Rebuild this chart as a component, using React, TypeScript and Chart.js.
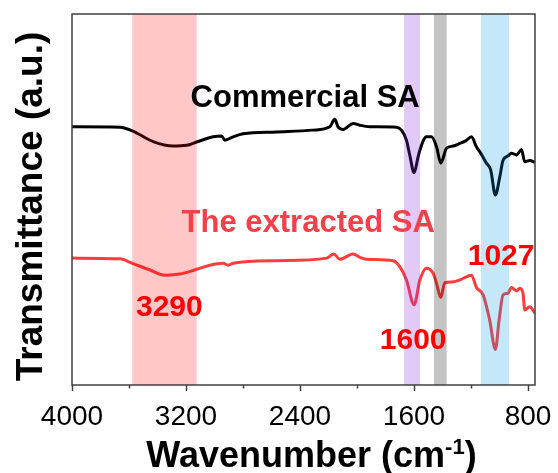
import React, { useEffect, useRef } from 'react';
import { Chart, registerables } from 'chart.js';

Chart.register(...registerables);

// ---- data ----
const commercialWavenumber = [
  4000, 3663, 3577, 3430, 3290, 3196, 3125, 3009, 2950, 2927, 2869, 2799, 2564, 2308, 2191, 2156, 2132, 2097,
  2027, 1980, 1910, 1723, 1688, 1653, 1630, 1599, 1573, 1559, 1513, 1477, 1442, 1412, 1372, 1326, 1279, 1237,
  1197, 1162, 1132, 1092, 1062, 1029, 998, 975, 942, 916, 881, 846, 823, 788, 751,
];
const commercialTransmittance = [
  69.6, 69.5, 68.5, 65.6, 64.4, 64.6, 65.5, 66.9, 67.1, 66.0, 66.9, 67.7, 68.2, 68.7, 69.6, 71.6, 69.5, 68.9,
  70.5, 70.0, 69.6, 69.5, 68.7, 66.0, 62.0, 57.2, 61.2, 63.3, 66.9, 66.9, 64.2, 59.8, 63.8, 64.4, 65.1, 65.8,
  66.9, 64.2, 62.5, 59.8, 58.0, 51.2, 56.1, 60.6, 61.7, 62.5, 62.0, 63.5, 60.2, 60.5, 60.0,
];
const extractedWavenumber = [
  4000, 3663, 3577, 3453, 3348, 3243, 3125, 3032, 2939, 2904, 2869, 2564, 2214, 2163, 2120, 2027, 1980, 1933,
  1747, 1700, 1653, 1599, 1559, 1513, 1466, 1442, 1412, 1384, 1326, 1279, 1237, 1197, 1162, 1115, 1069, 1029,
  1003, 975, 942, 916, 881, 858, 835, 823, 788, 751,
];
const extractedTransmittance = [
  34.2, 34.0, 32.8, 31.0, 29.6, 29.9, 31.2, 32.3, 32.8, 32.3, 32.8, 33.5, 34.2, 35.3, 33.9, 35.3, 34.4, 33.9,
  33.5, 31.9, 28.3, 21.6, 28.3, 31.5, 30.1, 27.4, 23.6, 27.6, 27.8, 28.3, 29.1, 29.6, 26.3, 24.3, 17.5, 9.6,
  17.5, 24.3, 24.7, 26.3, 25.4, 26.1, 24.7, 20.2, 21.1, 19.3,
];
const seriesNames = ['Commercial SA', 'The extracted SA'];
const xTickValues = [4000, 3600, 3200, 2800, 2400, 2000, 1600, 1200, 800];
const xTickLabels = [4000, 3200, 2400, 1600, 800];
const bandStart = [3577, 1670, 1460, 1130];
const bandEnd = [3125, 1558, 1371, 933];
const annotationText = ['Commercial SA', 'The extracted SA', '3290', '1600', '1027'];
const annotationWavenumber = [3168, 3231, 3551, 1840, 1223];
const annotationLevel = [75.0, 41.3, 18.6, 9.6, 32.3];

// ---- styles ----
const FONT = "'Liberation Sans', Arial, Helvetica, sans-serif";
const bandColors = [
  'rgba(255,0,0,0.22)',
  'rgba(140,40,220,0.25)',
  'rgba(0,0,0,0.23)',
  'rgba(0,150,235,0.23)',
];
const annotationColors = ['#000000', '#f4404a', '#ff0000', '#ff0000', '#ff0000'];
const annotationSizes = [31, 31, 30, 30, 30];

const overlayPlugin = {
  id: 'ftirOverlay',
  afterDatasetsDraw(chart: any) {
    const { ctx, chartArea: a, scales } = chart;
    const x = scales.x;
    ctx.save();
    for (let i = 0; i < bandStart.length; i++) {
      const p1 = x.getPixelForValue(bandStart[i]);
      const p2 = x.getPixelForValue(bandEnd[i]);
      ctx.fillStyle = bandColors[i];
      ctx.fillRect(Math.min(p1, p2), a.top, Math.abs(p2 - p1), a.bottom - a.top);
    }
    ctx.restore();
  },
  afterDraw(chart: any) {
    const { ctx, chartArea: a, scales } = chart;
    const x = scales.x;
    const y = scales.y;
    ctx.save();
    // frame
    ctx.strokeStyle = '#404040';
    ctx.lineWidth = 1.5;
    ctx.strokeRect(a.left, a.top, a.right - a.left, a.bottom - a.top);
    // tick marks
    ctx.beginPath();
    for (const v of xTickValues) {
      const px = Math.round(x.getPixelForValue(v)) + 0.5;
      const len = xTickLabels.includes(v) ? 6 : 3.5;
      ctx.moveTo(px, a.bottom);
      ctx.lineTo(px, a.bottom + len);
    }
    ctx.stroke();

    // annotations
    ctx.textBaseline = 'alphabetic';
    ctx.textAlign = 'left';
    for (let i = 0; i < annotationText.length; i++) {
      ctx.font = `bold ${annotationSizes[i]}px ${FONT}`;
      ctx.fillStyle = annotationColors[i];
      ctx.fillText(annotationText[i], x.getPixelForValue(annotationWavenumber[i]), y.getPixelForValue(annotationLevel[i]));
    }

    // y title
    ctx.save();
    ctx.font = `bold 37px ${FONT}`;
    ctx.fillStyle = '#000';
    ctx.textAlign = 'center';
    ctx.translate(42, (a.top + a.bottom) / 2 + 7);
    ctx.rotate(-Math.PI / 2);
    ctx.fillText('Transmittance (a.u.)', 0, 0);
    ctx.restore();

    // x title with superscript
    const main = 'Wavenumber (cm';
    const sup = '-1';
    const close = ')';
    ctx.fillStyle = '#000';
    ctx.textAlign = 'left';
    ctx.font = `bold 36px ${FONT}`;
    const w1 = ctx.measureText(main).width;
    const w3 = ctx.measureText(close).width;
    ctx.font = `bold 22px ${FONT}`;
    const w2 = ctx.measureText(sup).width;
    const total = w1 + w2 + w3;
    const cx = (a.left + a.right) / 2 + 8;
    const baseY = 467;
    let sx = cx - total / 2;
    ctx.font = `bold 36px ${FONT}`;
    ctx.fillText(main, sx, baseY);
    sx += w1;
    ctx.font = `bold 22px ${FONT}`;
    ctx.fillText(sup, sx, baseY - 13);
    sx += w2;
    ctx.font = `bold 36px ${FONT}`;
    ctx.fillText(close, sx, baseY);
    ctx.restore();
  },
};

export default function App() {
  const canvasRef = useRef<HTMLCanvasElement | null>(null);

  useEffect(() => {
    if (!canvasRef.current) return;
    const chart = new Chart(canvasRef.current, {
      type: 'line',
      data: {
        datasets: [
          {
            label: seriesNames[0],
            data: commercialWavenumber.map((w, i) => ({ x: w, y: commercialTransmittance[i] })),
            borderColor: '#000000',
            borderWidth: 3,
            pointRadius: 0,
            cubicInterpolationMode: 'monotone',
            fill: false,
          },
          {
            label: seriesNames[1],
            data: extractedWavenumber.map((w, i) => ({ x: w, y: extractedTransmittance[i] })),
            borderColor: '#ff3d3d',
            borderWidth: 3,
            pointRadius: 0,
            cubicInterpolationMode: 'monotone',
            fill: false,
          },
        ],
      },
      options: {
        animation: false,
        responsive: true,
        maintainAspectRatio: false,
        layout: { padding: { left: 72, top: 14, right: 23, bottom: 0 } },
        plugins: { legend: { display: false }, tooltip: { enabled: false } },
        scales: {
          x: {
            type: 'linear',
            reverse: true,
            min: 751,
            max: 4000,
            border: { display: false },
            grid: { display: false, drawTicks: false },
            afterBuildTicks: (s: any) => {
              s.ticks = xTickValues.map((v) => ({ value: v }));
            },
            ticks: {
              autoSkip: false,
              maxRotation: 0,
              minRotation: 0,
              padding: 15,
              color: '#000',
              font: { family: FONT, size: 28 },
              callback: (v: any) => (xTickLabels.includes(Number(v)) ? String(v) : ''),
            },
            afterFit: (s: any) => {
              s.height = 88;
              s.paddingLeft = 0;
              s.paddingRight = 0;
            },
          },
          y: {
            display: false,
            min: 0,
            max: 100,
          },
        },
      },
      plugins: [overlayPlugin],
    } as any);
    return () => chart.destroy();
  }, []);

  return (
    <div style={{ position: 'absolute', left: 0, top: 0, width: 558, height: 473, background: '#fff' }}>
      <canvas ref={canvasRef} />
    </div>
  );
}
